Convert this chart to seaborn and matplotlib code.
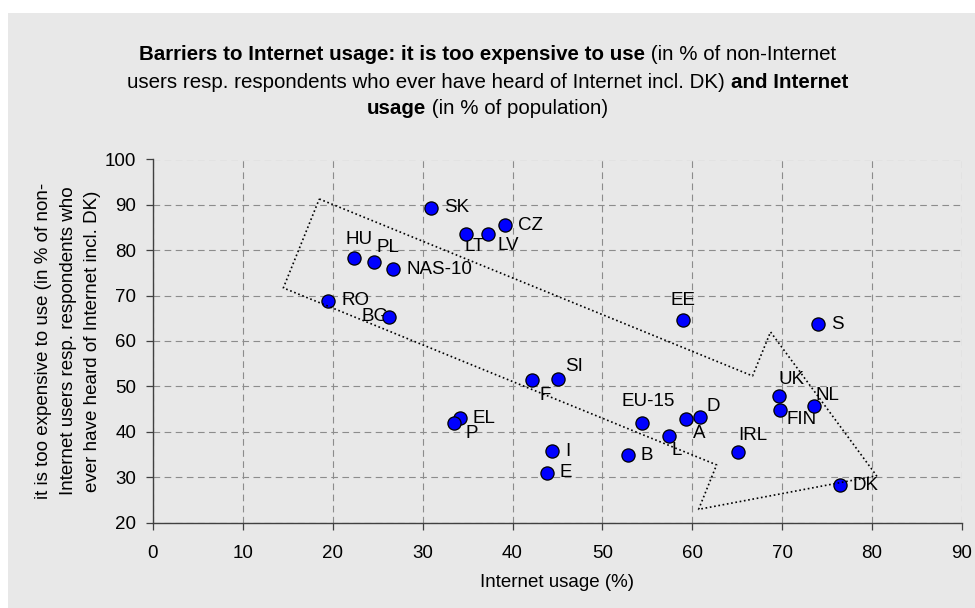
import matplotlib
matplotlib.use("Agg")
import matplotlib.pyplot as plt
import seaborn as sns
import pandas as pd
from matplotlib.patches import Rectangle

# --------------------------------------------------------------
# Data
# --------------------------------------------------------------
countries = ["SK", "LT", "LV", "CZ", "HU", "PL", "NAS-10", "RO", "BG", "F",
             "EE", "S", "SI", "EU-15", "A", "D", "L", "B", "I", "E",
             "IRL", "UK", "FIN", "NL", "DK", "EL", "P"]
internet_usage = [30.9, 34.8, 37.3, 39.2, 22.4, 24.6, 26.7, 19.5, 26.3, 42.2,
                  59.0, 74.0, 45.1, 54.4, 59.3, 60.8, 57.4, 52.8, 44.4, 43.8,
                  65.1, 69.6, 69.7, 73.5, 76.4, 34.1, 33.5]
too_expensive = [89.4, 83.5, 83.5, 85.5, 78.3, 77.4, 75.8, 68.9, 65.3, 51.4,
                 64.6, 63.7, 51.7, 42.0, 42.8, 43.2, 39.1, 34.8, 35.7, 31.0,
                 35.5, 47.9, 44.9, 45.7, 28.2, 43.0, 41.9]

# outline of the dotted arrow drawn on the chart
arrow_x = [18.5, 66.7, 68.7, 80.5, 60.7, 62.7, 14.5, 18.5]
arrow_y = [91.3, 52.3, 62.0, 30.3, 22.9, 32.7, 71.7, 91.3]

df = pd.DataFrame({"country": countries, "usage": internet_usage, "expensive": too_expensive})

# label placement (offset in pixels, alignment)
label_pos = {
    "SK": (13, 0, "left"), "LT": (-1, -12, "left"), "LV": (9, -11, "left"),
    "CZ": (13, 0, "left"), "HU": (-9, 18, "left"), "PL": (2, 15, "left"),
    "NAS-10": (13, 0, "left"), "RO": (13, 0, "left"), "BG": (-1, 0, "right"),
    "F": (7, -15, "left"), "EE": (0, 20, "center"), "S": (13, 0, "left"),
    "SI": (7, 12, "left"), "EU-15": (6, 21, "center"), "A": (7, -14, "left"),
    "D": (7, 11, "left"), "L": (3, -15, "left"), "B": (13, 0, "left"),
    "I": (13, 0, "left"), "E": (13, 0, "left"), "IRL": (0, 17, "left"),
    "UK": (0, 16, "left"), "FIN": (7, -10, "left"), "NL": (2, 10, "left"),
    "DK": (13, 0, "left"), "EL": (13, 0, "left"), "P": (11, -10, "left"),
}

# --------------------------------------------------------------
# Style
# --------------------------------------------------------------
bg = "#E8E8E8"
sns.set_style("white")
plt.rcParams["font.family"] = ["Liberation Sans", "DejaVu Sans"]
plt.rcParams["text.color"] = "black"
plt.rcParams["axes.labelcolor"] = "black"
plt.rcParams["xtick.color"] = "black"
plt.rcParams["ytick.color"] = "black"
fs = 13.5
title_fs = 14.8

fig = plt.figure(figsize=(9.75, 6.08), dpi=100, facecolor="white")
fig.patches.append(Rectangle((8 / 975, 0), 1, 1 - 13 / 608, transform=fig.transFigure,
                             facecolor=bg, edgecolor="none", zorder=-10))
ax = fig.add_axes([153 / 975, 1 - 522.5 / 608, 809 / 975, 363 / 608])
ax.set_facecolor(bg)

sns.scatterplot(data=df, x="usage", y="expensive", ax=ax, s=90, color="#0000FF",
                edgecolor="black", linewidth=0.9, zorder=3, legend=False)

for c, xv, yv in zip(countries, internet_usage, too_expensive):
    dx, dy, ha = label_pos[c]
    ax.annotate(c, (xv, yv), xytext=(dx, dy), textcoords="offset pixels",
                ha=ha, va="center", fontsize=fs, color="black", zorder=2)

ax.plot(arrow_x, arrow_y, color="black", lw=1.2, linestyle=(0, (1, 1.6)), zorder=4)

ax.set_xlim(0, 90)
ax.set_ylim(20, 100)
ax.set_xticks(range(0, 91, 10))
ax.set_yticks(range(20, 101, 10))
ax.grid(True, color="#8C8C8C", lw=0.8, linestyle=(0, (6, 4)))
ax.set_axisbelow(True)
for side in ["top", "right"]:
    ax.spines[side].set_visible(False)
for side in ["left", "bottom"]:
    ax.spines[side].set_color("#404040")
    ax.spines[side].set_linewidth(1.0)
ax.tick_params(axis="both", direction="out", length=5, width=0.9, color="#404040",
               labelsize=fs, left=True, bottom=True)
ax.tick_params(axis="x", pad=11)
ax.tick_params(axis="y", pad=7)

ax.set_xlabel("Internet usage (%)", fontsize=fs, labelpad=9)
ax.set_ylabel("it is too expensive to use (in % of non-\nInternet users resp. respondents who\n"
              "ever have heard of Internet incl. DK)", fontsize=fs, linespacing=1.55, labelpad=3)

# --------------------------------------------------------------
# Title with mixed bold / normal parts
# --------------------------------------------------------------
title_lines = [
    (55, [("Barriers to Internet usage: it is too expensive to use", "bold"),
          (" (in % of non-Internet", "normal")]),
    (82, [("users resp. respondents who ever have heard of Internet incl. DK) ", "normal"),
          ("and Internet", "bold")]),
    (109, [("usage", "bold"), (" (in % of population)", "normal")]),
]
renderer = fig.canvas.get_renderer()
for ypix, parts in title_lines:
    texts = [fig.text(0, 1 - ypix / 608, s, fontweight=w, fontsize=title_fs,
                      va="center", ha="left") for s, w in parts]
    widths = [t.get_window_extent(renderer).width for t in texts]
    x = 487.5 - sum(widths) / 2
    for t, w in zip(texts, widths):
        t.set_x(x / 975)
        x += w

fig.savefig("out.png", dpi=100, facecolor="white")
